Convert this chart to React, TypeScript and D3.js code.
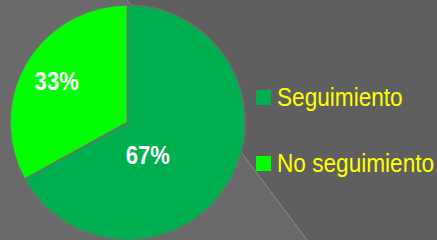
import * as d3 from 'd3';
import React from 'react';

const categories = ['Seguimiento', 'No seguimiento'];
const values = [67, 33];
const percentLabels = ['67%', '33%'];
const colors = ['#00B050', '#00FF00'];

const W = 437;
const H = 240;
const cx = 127.5;
const cy = 122.5;
const radius = 117.5;
const font = "'Liberation Sans', Arial, sans-serif";

// where each label sits inside its slice: fraction along the sweep, fraction of the radius
const labelPlace = [
  { along: 0.61, dist: 0.32 },
  { along: 0.5, dist: 0.7 },
];

const App: React.FC = () => {
  const pie = d3.pie<number>().sort(null).value(d => d);
  const arcs = pie(values);
  const arc = d3.arc<d3.PieArcDatum<number>>().innerRadius(0).outerRadius(radius);

  return (
    <div style={{ position: 'fixed', left: 0, top: 0 }}>
      <svg width={W} height={H} style={{ display: 'block' }}>
        <rect x={0} y={0} width={W} height={H} fill="#5f5f5f" />
        <polygon points={`0,0 127,0 307,240 0,240`} fill="#6a6a6a" />
        <line x1={127} y1={0} x2={307} y2={240} stroke="#8a8a8a" strokeWidth={1} />
        <g transform={`translate(${cx},${cy})`}>
          {arcs.map((a, i) => (
            <path key={i} d={arc(a) || ''} fill={colors[i]} stroke="#6e6e6e" strokeWidth={1.5} strokeLinejoin="round" />
          ))}
          {arcs.map((a, i) => {
            const p = labelPlace[i];
            const ang = a.startAngle + (a.endAngle - a.startAngle) * p.along;
            const x = Math.sin(ang) * radius * p.dist;
            const y = -Math.cos(ang) * radius * p.dist;
            return (
              <text key={i} transform={`translate(${x},${y + 9.5}) scale(0.85,1)`} textAnchor="middle" fill="#ffffff"
                fontFamily={font} fontWeight="bold" fontSize={26}>
                {percentLabels[i]}
              </text>
            );
          })}
        </g>
        {categories.map((c, i) => (
          <g key={c} transform={`translate(256,${90 + i * 66})`}>
            <rect x={0} y={0} width={15} height={15} fill={colors[i]} />
            <text transform="translate(21,16) scale(0.87,1)" fill="#FFFF00" fontFamily={font} fontSize={26}>{c}</text>
          </g>
        ))}
      </svg>
    </div>
  );
};

export default App;
